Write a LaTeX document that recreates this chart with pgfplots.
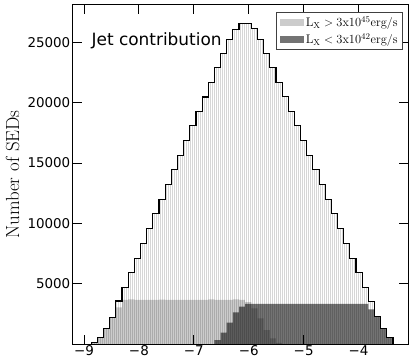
\documentclass[border=0pt]{standalone}
\usepackage{fontspec}
\usepackage{pgfplots}
\usepackage{pgfplotstable}
\pgfplotsset{compat=1.18}
\usetikzlibrary{patterns.meta}
\newfontfamily\dejavu{DejaVu Sans}

\pgfplotstableread{
x y
-8.867 0
-8.867 140
-8.755 525
-8.643 1270
-8.531 2210
-8.419 3565
-8.307 4700
-8.194 5915
-8.082 7100
-7.970 8345
-7.858 9560
-7.746 10780
-7.634 12000
-7.522 13210
-7.410 14430
-7.298 15650
-7.186 16860
-7.073 18100
-6.961 19260
-6.849 20470
-6.737 21680
-6.625 22930
-6.513 24100
-6.401 25230
-6.289 26100
-6.177 26590
-6.065 26590
-5.952 26120
-5.840 25260
-5.728 24100
-5.616 22930
-5.504 21680
-5.392 20500
-5.280 19260
-5.168 18100
-5.056 16860
-4.944 15650
-4.831 14430
-4.719 13210
-4.607 12000
-4.495 10780
-4.383 9560
-4.271 8345
-4.159 7100
-4.047 5915
-3.935 4700
-3.823 3510
-3.710 2265
-3.598 1300
-3.486 525
-3.374 0
}\alltable

\pgfplotstableread{
x y
-8.867 0
-8.867 140
-8.755 525
-8.643 1270
-8.531 2210
-8.419 3040
-8.307 3650
-8.194 3690
-8.082 3650
-7.970 3660
-7.858 3650
-7.746 3650
-7.634 3680
-7.522 3650
-7.410 3660
-7.298 3650
-7.186 3650
-7.073 3660
-6.961 3650
-6.849 3650
-6.737 3690
-6.625 3650
-6.513 3650
-6.401 3660
-6.289 3690
-6.177 3650
-6.065 3480
-5.952 2960
-5.840 2130
-5.728 1160
-5.616 470
-5.504 100
-5.392 0
}\hightable

\pgfplotstableread{
x y
-6.625 0
-6.625 330
-6.513 940
-6.401 1770
-6.289 2630
-6.177 3100
-6.065 3320
-5.952 3330
-5.840 3320
-5.728 3320
-5.616 3330
-5.504 3320
-5.392 3320
-5.280 3320
-5.168 3330
-5.056 3320
-4.944 3320
-4.831 3320
-4.719 3330
-4.607 3320
-4.495 3320
-4.383 3320
-4.271 3330
-4.159 3320
-4.047 3320
-3.935 3320
-3.823 2875
-3.710 2265
-3.598 1300
-3.486 525
-3.374 0
}\lowtable

\begin{document}
\begin{tikzpicture}
\begin{axis}[name=ax, scale only axis, width=335bp, height=339bp,
  xmin=-9.2, xmax=-3.1, ymin=0, ymax=28100,
  xtick={-9,-8,-7,-6,-5,-4}, xticklabels={−9,−8,−7,−6,−5,−4},
  ytick={5000,10000,15000,20000,25000}, yticklabels={5000,10000,15000,20000,25000},
  scaled y ticks=false,
  tick align=inside, tick pos=both, major tick length=9bp,
  tick style={black, line width=0.9bp},
  ticklabel style={font=\dejavu\fontsize{13.5}{14}\selectfont},
  xticklabel style={inner sep=0.5bp, yshift=-1bp},
  yticklabel style={inner sep=1.5bp, xshift=-1bp},
  axis line style={line width=1bp},
  ylabel={Number of SEDs},
  ylabel style={font=\fontsize{19}{19}\selectfont, at={(axis description cs:-0.18,0.5)}, anchor=center},
  legend style={at={(axis description cs:0.985,0.979)}, anchor=north east,
    font=\fontsize{12.5}{12.5}\selectfont, draw=black!75, line width=0.8bp,
    inner xsep=3bp, inner ysep=2bp, row sep=1.5bp},
  legend cell align=left,
  legend image code/.code={\fill[#1] (0bp,-3.5bp) rectangle (24bp,3.5bp);},
]
\addplot[draw=none, const plot, forget plot,
  pattern={Lines[angle=90,distance=2bp,line width=0.8bp]}, pattern color=black!16]
  table[x=x,y=y] {\alltable};
\addplot[draw=none, const plot, fill=black, fill opacity=0.2]
  table[x=x,y=y] {\hightable};
\addlegendentry{$\mathrm{L_X > 3x10^{45}erg/s}$}
\addplot[draw=none, const plot, fill=black, fill opacity=0.55]
  table[x=x,y=y] {\lowtable};
\addlegendentry{$\mathrm{L_X < 3x10^{42}erg/s}$}
\addplot[black, line width=1.1bp, const plot, forget plot]
  table[x=x,y=y] {\alltable};
\node[anchor=base west, font=\dejavu\fontsize{17}{17}\selectfont]
  at (axis description cs:0.045,0.88) {Jet contribution};
\end{axis}
\pgfresetboundingbox
\path ([shift={(-73bp,-15bp)}]ax.south west) rectangle ([shift={(7bp,5bp)}]ax.north east);
\end{tikzpicture}
\end{document}
